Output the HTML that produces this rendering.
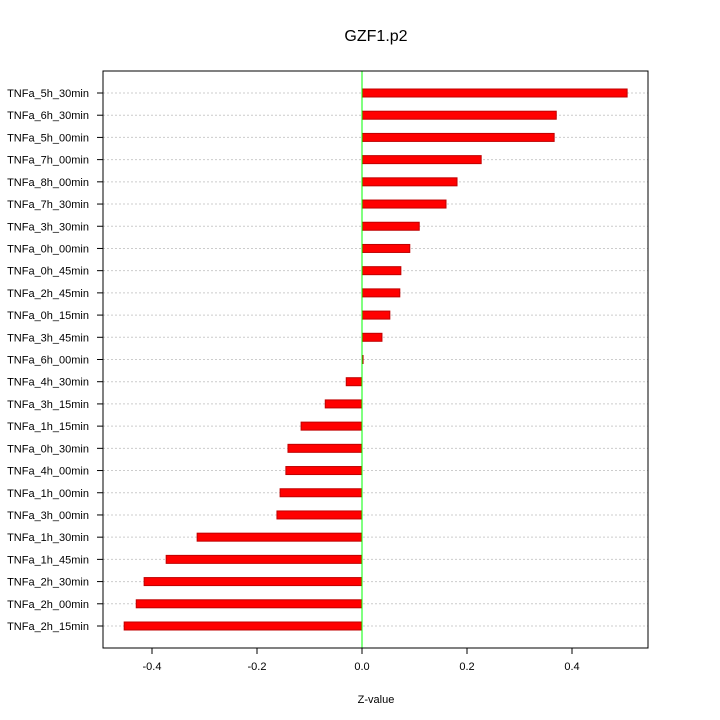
<!DOCTYPE html>
<html><head><meta charset="utf-8"><style>
body{margin:0;background:#fff;}
svg{display:block;font-family:"Liberation Sans",sans-serif;}
</style></head><body>
<svg id="chart" width="720" height="720">
<rect width="720" height="720" fill="#fff"/>
<text x="376" y="41" font-size="16" text-anchor="middle">GZF1.p2</text>
<text x="376" y="703" font-size="11" text-anchor="middle">Z-value</text>
<g id="grid"></g><g id="bars"></g><g id="axes"></g>
</svg>
<script>
const categories=["TNFa_5h_30min","TNFa_6h_30min","TNFa_5h_00min","TNFa_7h_00min","TNFa_8h_00min","TNFa_7h_30min","TNFa_3h_30min","TNFa_0h_00min","TNFa_0h_45min","TNFa_2h_45min","TNFa_0h_15min","TNFa_3h_45min","TNFa_6h_00min","TNFa_4h_30min","TNFa_3h_15min","TNFa_1h_15min","TNFa_0h_30min","TNFa_4h_00min","TNFa_1h_00min","TNFa_3h_00min","TNFa_1h_30min","TNFa_1h_45min","TNFa_2h_30min","TNFa_2h_00min","TNFa_2h_15min"];
const values=[0.505,0.370,0.366,0.227,0.181,0.160,0.109,0.091,0.074,0.072,0.053,0.038,0.002,-0.030,-0.070,-0.116,-0.141,-0.145,-0.156,-0.162,-0.314,-0.373,-0.415,-0.430,-0.453];
const xTicks=[-0.4,-0.2,0.0,0.2,0.4];
const xTickLabels=["-0.4","-0.2","0.0","0.2","0.4"];
const NS="http://www.w3.org/2000/svg";
const L=103,R=648,T=71,B=648;
const x=v=>362+v*525;
const y=i=>93+i*(626-93)/(categories.length-1);
function mk(tag,attrs,parent){const e=document.createElementNS(NS,tag);for(const k in attrs)e.setAttribute(k,attrs[k]);parent.appendChild(e);return e;}
const grid=document.getElementById('grid'),bars=document.getElementById('bars'),axes=document.getElementById('axes');
categories.forEach((c,i)=>{
  const g=mk('line',{x1:L,x2:R,y1:y(i),y2:y(i),stroke:'#ccc','stroke-dasharray':'2,2'},grid);
  
  
  const v=values[i];
  const b=mk('rect',{x:Math.min(x(0),x(v)),y:y(i)-4,width:Math.max(Math.abs(x(v)-x(0)),1),height:8,fill:'#ff0000',stroke:'#c00000','stroke-width':1},bars);
  
  
  const t=mk('text',{x:L-14,y:y(i)+4,'font-size':'11','text-anchor':'end'},axes);
  t.textContent=c;
  
  
  const tk=mk('line',{x1:L-6,x2:L,y1:y(i),y2:y(i),stroke:'#000'},axes);
  
  
});
const zl=mk('line',{x1:x(0),x2:x(0),y1:T,y2:B,stroke:'#00ff00'},bars);


const fr=mk('rect',{x:L,y:T,width:R-L,height:B-T,fill:'none',stroke:'#000'},axes);


xTicks.forEach((v,i)=>{
  const tk=mk('line',{x1:x(v),x2:x(v),y1:B,y2:B+6,stroke:'#000'},axes);
  
  
  const t=mk('text',{x:x(v),y:B+22,'font-size':'11','text-anchor':'middle'},axes);
  t.textContent=xTickLabels[i];
  
  
});
</script>
</body></html>
